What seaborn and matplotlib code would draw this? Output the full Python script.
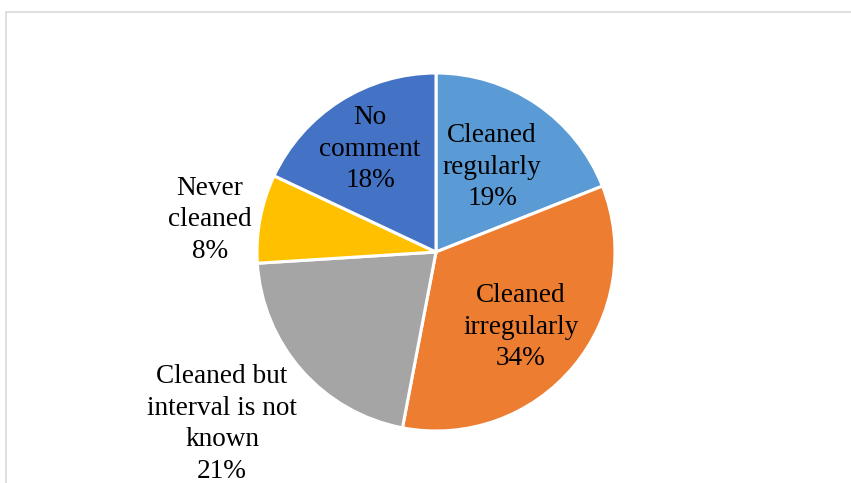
import matplotlib
matplotlib.use("Agg")
import matplotlib.pyplot as plt
from matplotlib.patches import Rectangle
import seaborn as sns

categories = ["Cleaned regularly", "Cleaned irregularly", "Cleaned but interval is not known",
              "Never cleaned", "No comment"]
values = [19, 34, 21, 8, 18]
colors = ["#5B9BD5", "#ED7D31", "#A5A5A5", "#FFC000", "#4472C4"]
label_text = ["Cleaned\nregularly", "Cleaned\nirregularly", "Cleaned but\ninterval is not\nknown",
              "Never\ncleaned", "No\ncomment"]

sns.set_theme(style="white")
plt.rcParams['font.family'] = ['Liberation Serif', 'DejaVu Serif']

W, H = 851, 483
fig = plt.figure(figsize=(W / 100, H / 100), dpi=100)
ax = fig.add_axes([0, 0, 1, 1])

# chart frame
ax.add_patch(Rectangle((6, -20), 900, H - 12 + 20, fill=False, edgecolor="#D9D9D9", linewidth=1.2))

cx, cy, r = 436, H - 252, 179
ax.pie(values, colors=colors, startangle=90, counterclock=False, center=(cx, cy), radius=r,
       wedgeprops=dict(edgecolor="white", linewidth=2.2), frame=True)
ax.set_xlim(0, W)
ax.set_ylim(0, H)
ax.set_aspect('equal')
ax.axis('off')

# label positions (pixel centers, top-down y)
pos = [(492, 167), (521, 327), (222, 424), (210, 220), (370, 149)]
for txt, v, (x, y) in zip(label_text, values, pos):
    ax.text(x, H - y, f"{txt}\n{v}%", ha="center", va="center", fontsize=19.6,
            color="black", linespacing=1.36)

fig.savefig("out.png", dpi=100)
